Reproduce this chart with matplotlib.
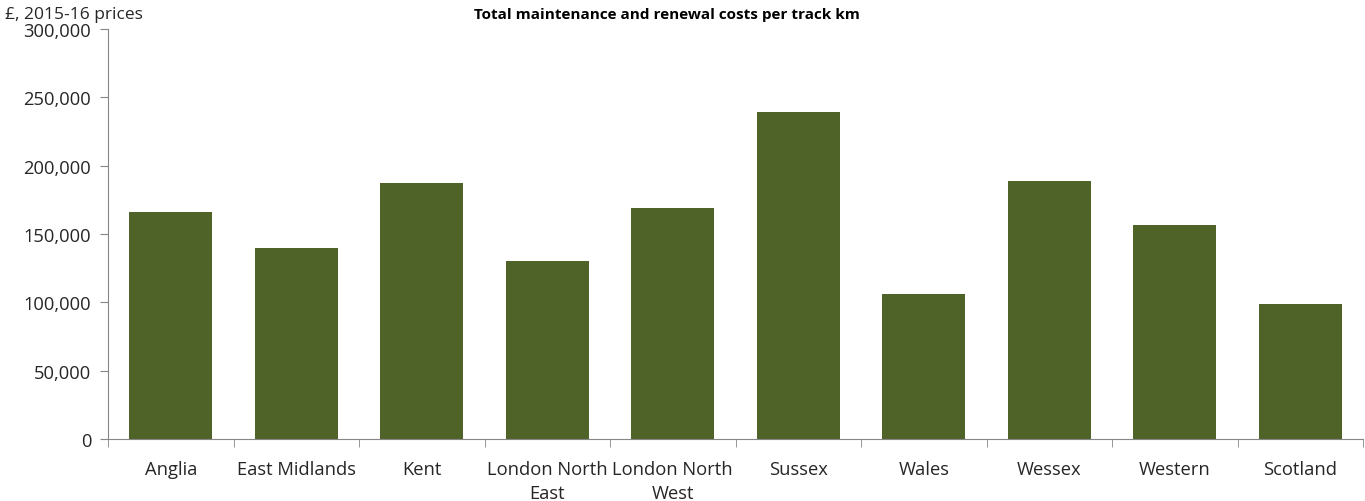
import matplotlib.pyplot as plt
import numpy as np

plt.rcParams['font.family'] = ['Open Sans', 'DejaVu Sans']

regions = ["Anglia", "East Midlands", "Kent", "London North\nEast", "London North\nWest",
           "Sussex", "Wales", "Wessex", "Western", "Scotland"]
costs = [166000, 140000, 187500, 130500, 169000, 239500, 106000, 188500, 156500, 98500]

bar_color = "#4F6228"
axis_color = "#868686"

fig = plt.figure(figsize=(13.65, 5.02), dpi=100)
ax = fig.add_axes([108 / 1365, 1 - 440 / 502, (1363 - 108) / 1365, 410 / 502])

x = np.arange(len(regions))
ax.bar(x, costs, width=0.66, color=bar_color, zorder=2)

ax.set_xlim(-0.5, len(regions) - 0.5)
ax.set_ylim(0, 300000)
ax.set_yticks(np.arange(0, 300001, 50000))
ax.yaxis.set_major_formatter(plt.FuncFormatter(lambda v, p: f"{int(v):,}"))

ax.set_xticks(x)
ax.set_xticklabels(regions, linespacing=1.45)
ax.set_xticks(np.arange(-0.5, len(regions)), minor=True)
ax.tick_params(axis='x', which='major', length=0, pad=15, labelsize=13.2, colors='#262626')
ax.tick_params(axis='x', which='minor', length=6, color=axis_color, direction='out')
ax.tick_params(axis='y', length=6, color=axis_color, labelsize=13.2, labelcolor='#262626', pad=6)

for s in ['top', 'right']:
    ax.spines[s].set_visible(False)
for s in ['left', 'bottom']:
    ax.spines[s].set_color(axis_color)

fig.text(5 / 1365, 1 - 15 / 502, "£, 2015-16 prices", fontsize=12.5, va='center', ha='left', color='#262626')
fig.text(667 / 1365, 1 - 15 / 502, "Total maintenance and renewal costs per track km",
         fontsize=11, fontweight='bold', va='center', ha='center', color='black')

fig.savefig("out.png", dpi=100)
